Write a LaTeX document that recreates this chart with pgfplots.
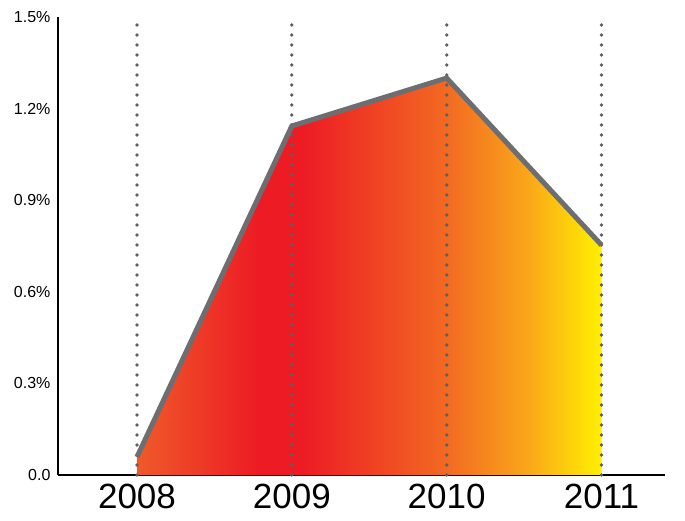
\documentclass[border=0pt]{standalone}
\usepackage{pgfplots}
\pgfplotsset{compat=1.18}
\usepackage{fontspec}
\setmainfont{Liberation Sans}

\definecolor{cLeft}{HTML}{EF5A2A}
\definecolor{cRed}{HTML}{ED1C24}
\definecolor{cMid}{HTML}{F26A22}
\definecolor{cAmber}{HTML}{FAA61A}
\definecolor{cYel}{HTML}{FFF000}
\definecolor{lineGray}{HTML}{6D6E71}
\definecolor{dotGray}{HTML}{5E5F62}

% horizontal gradient; the path's bounding box maps to 25bp..75bp
\pgfdeclarehorizontalshading{areagrad}{100bp}{color(0bp)=(cLeft); color(25bp)=(cLeft);
  color(38bp)=(cRed); color(43bp)=(cRed); color(58.33bp)=(cMid);
  color(67bp)=(cAmber); color(75bp)=(cYel); color(100bp)=(cYel)}

\begin{document}
\begin{tikzpicture}[x=1pt,y=1pt]
\begin{axis}[
    at={(0,0)}, anchor=south west,
    scale only axis,
    width=607pt, height=458pt,
    xmin=-0.51, xmax=3.41,
    ymin=0, ymax=1.5,
    axis lines=left,
    axis line style={-, line width=2pt, black},
    xtick={0,1,2,3},
    xticklabels={2008,2009,2010,2011},
    ytick={0,0.3,0.6,0.9,1.2,1.5},
    yticklabels={0.0,0.3\%,0.6\%,0.9\%,1.2\%,1.5\%},
    major tick length=0pt,
    xticklabel style={font=\fontsize{35}{35}\selectfont, yshift=-6pt},
    yticklabel style={font=\fontsize{16}{16}\selectfont, xshift=-4pt},
    clip=false,
  ]
  % gradient area
  \addplot[draw=none, shade, shading=areagrad] coordinates {
    (0,0.059) (1,1.143) (2,1.30) (3,0.753)
  } \closedcycle;
  % dotted guide lines
  \addplot[ycomb, dotGray, line width=3.8pt, line cap=round,
           dash pattern=on 0pt off 10pt, mark=none] coordinates {
    (0,1.5) (1,1.5) (2,1.5) (3,1.5)
  };
  % outline
  \addplot[lineGray, line width=5pt, line join=miter, mark=none] coordinates {
    (0,0.059) (1,1.143) (2,1.30) (3,0.753)
  };
\end{axis}
\path (-58pt,-46pt) rectangle (627pt,475pt);
\end{tikzpicture}
\end{document}
